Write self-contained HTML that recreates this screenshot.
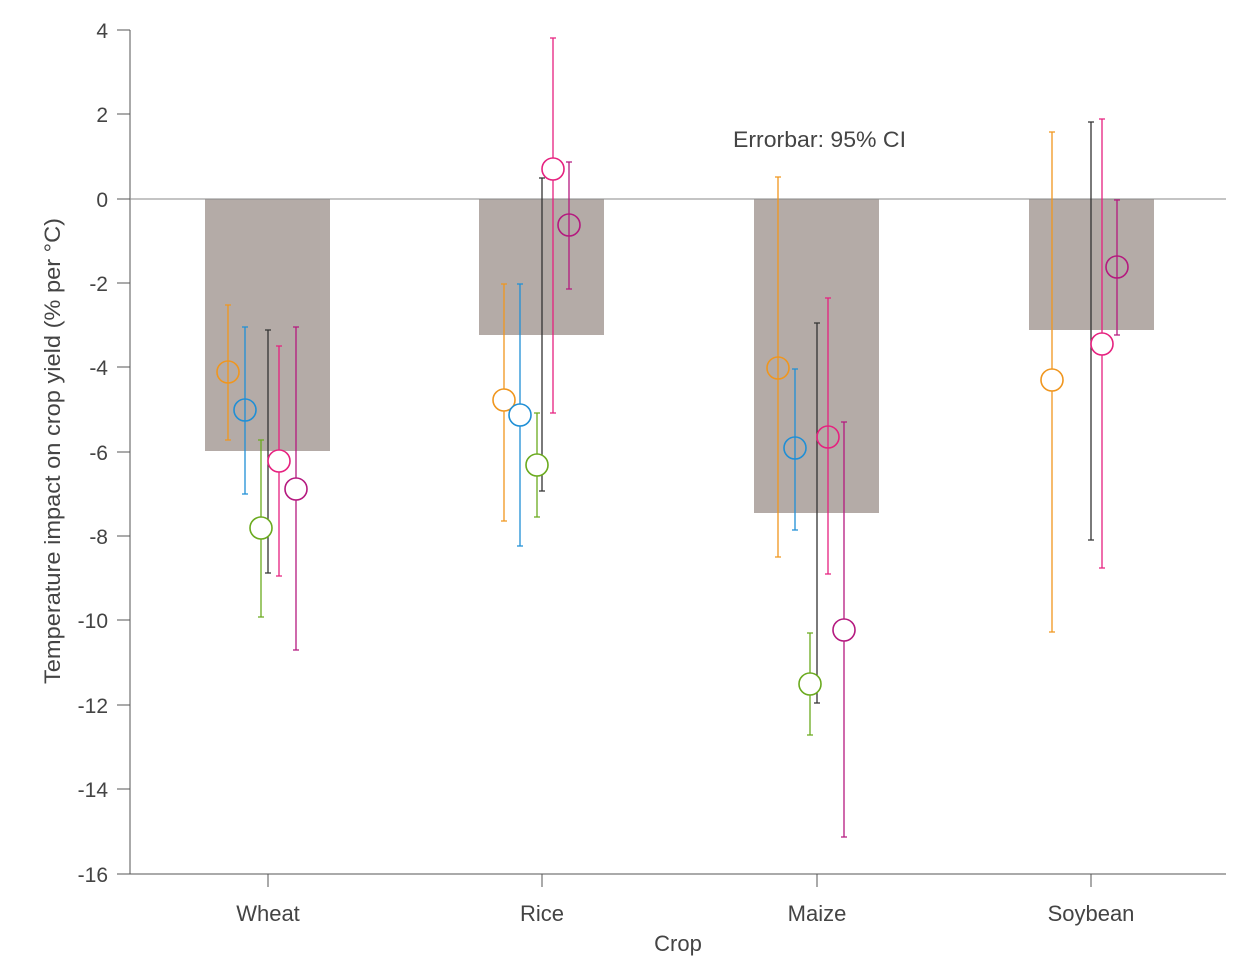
<!DOCTYPE html>
<html><head><meta charset="utf-8"><style>
html,body{margin:0;padding:0;background:#fff;}
svg{display:block;font-family:"Liberation Sans",sans-serif;}
</style></head><body>
<svg width="1250" height="969" viewBox="0 0 1250 969" xmlns="http://www.w3.org/2000/svg">
<g fill="#b4aba7">
<rect x="205" y="199" width="125" height="252"/>
<rect x="479" y="199" width="125" height="136"/>
<rect x="754" y="199" width="125" height="314"/>
<rect x="1029" y="199" width="125" height="131"/>
</g>
<g stroke="#555" stroke-width="1" fill="none">
<line x1="130" y1="30" x2="130" y2="874"/>
<line x1="130" y1="874" x2="1226" y2="874"/>
<line x1="130" y1="199" x2="1226" y2="199" stroke="#888"/>
<line x1="117" y1="30" x2="130" y2="30"/><line x1="117" y1="114" x2="130" y2="114"/>
<line x1="117" y1="199" x2="130" y2="199"/><line x1="117" y1="283" x2="130" y2="283"/>
<line x1="117" y1="367" x2="130" y2="367"/><line x1="117" y1="452" x2="130" y2="452"/>
<line x1="117" y1="536" x2="130" y2="536"/><line x1="117" y1="620" x2="130" y2="620"/>
<line x1="117" y1="705" x2="130" y2="705"/><line x1="117" y1="789" x2="130" y2="789"/>
<line x1="117" y1="874" x2="130" y2="874"/>
<line x1="268" y1="874" x2="268" y2="887"/><line x1="542" y1="874" x2="542" y2="887"/>
<line x1="817" y1="874" x2="817" y2="887"/><line x1="1091" y1="874" x2="1091" y2="887"/>
</g>
<g font-size="21" fill="#444" text-anchor="end">
<text x="108" y="38">4</text><text x="108" y="122">2</text><text x="108" y="207">0</text>
<text x="108" y="291">-2</text><text x="108" y="375">-4</text><text x="108" y="460">-6</text>
<text x="108" y="544">-8</text><text x="108" y="628">-10</text><text x="108" y="713">-12</text>
<text x="108" y="797">-14</text><text x="108" y="882">-16</text>
</g>
<g font-size="22" fill="#444" text-anchor="middle">
<text x="268" y="921">Wheat</text><text x="542" y="921">Rice</text>
<text x="817" y="921">Maize</text><text x="1091" y="921">Soybean</text>
<text x="678" y="951">Crop</text>
<text transform="translate(60,451) rotate(-90)" textLength="466" lengthAdjust="spacingAndGlyphs">Temperature impact on crop yield (% per °C)</text>
</g>
<text x="733" y="147" font-size="22" fill="#444" textLength="173" lengthAdjust="spacingAndGlyphs">Errorbar: 95% CI</text>
<g stroke-width="1.3" fill="none">
<g stroke="#f0961e">
<path d="M228 305V440M225 305H231M225 440H231"/>
<path d="M504 284V521M501 284H507M501 521H507"/>
<path d="M778 177V557M775 177H781M775 557H781"/>
<path d="M1052 132V632M1049 132H1055M1049 632H1055"/>
</g>
<g stroke="#1f8fd6">
<path d="M245 327V494M242 327H248M242 494H248"/>
<path d="M520 284V546M517 284H523M517 546H523"/>
<path d="M795 369V530M792 369H798M792 530H798"/>
</g>
<g stroke="#6aaa1e">
<path d="M261 440V617M258 440H264M258 617H264"/>
<path d="M537 413V517M534 413H540M534 517H540"/>
<path d="M810 633V735M807 633H813M807 735H813"/>
</g>
<g stroke="#333">
<path d="M268 330V573M265 330H271M265 573H271"/>
<path d="M542 178V491M539 178H545M539 491H545"/>
<path d="M817 323V703M814 323H820M814 703H820"/>
<path d="M1091 122V540M1088 122H1094M1088 540H1094"/>
</g>
<g stroke="#e6217f">
<path d="M279 346V576M276 346H282M276 576H282"/>
<path d="M553 38V413M550 38H556M550 413H556"/>
<path d="M828 298V574M825 298H831M825 574H831"/>
<path d="M1102 119V568M1099 119H1105M1099 568H1105"/>
</g>
<g stroke="#b5197f">
<path d="M296 327V650M293 327H299M293 650H299"/>
<path d="M569 162V289M566 162H572M566 289H572"/>
<path d="M844 422V837M841 422H847M841 837H847"/>
<path d="M1117 200V335M1114 200H1120M1114 335H1120"/>
</g>
</g>
<g stroke-width="1.6">
<circle cx="228" cy="372" r="11" stroke="#f0961e" fill="none"/>
<circle cx="245" cy="410" r="11" stroke="#1f8fd6" fill="none"/>
<circle cx="261" cy="528" r="11" stroke="#6aaa1e" fill="#fff"/>
<circle cx="279" cy="461" r="11" stroke="#e6217f" fill="#fff"/>
<circle cx="296" cy="489" r="11" stroke="#b5197f" fill="#fff"/>
<circle cx="504" cy="400" r="11" stroke="#f0961e" fill="#fff"/>
<circle cx="520" cy="415" r="11" stroke="#1f8fd6" fill="#fff"/>
<circle cx="537" cy="465" r="11" stroke="#6aaa1e" fill="#fff"/>
<circle cx="553" cy="169" r="11" stroke="#e6217f" fill="#fff"/>
<circle cx="569" cy="225" r="11" stroke="#b5197f" fill="none"/>
<circle cx="778" cy="368" r="11" stroke="#f0961e" fill="none"/>
<circle cx="795" cy="448" r="11" stroke="#1f8fd6" fill="none"/>
<circle cx="810" cy="684" r="11" stroke="#6aaa1e" fill="#fff"/>
<circle cx="828" cy="437" r="11" stroke="#e6217f" fill="none"/>
<circle cx="844" cy="630" r="11" stroke="#b5197f" fill="#fff"/>
<circle cx="1052" cy="380" r="11" stroke="#f0961e" fill="#fff"/>
<circle cx="1102" cy="344" r="11" stroke="#e6217f" fill="#fff"/>
<circle cx="1117" cy="267" r="11" stroke="#b5197f" fill="none"/>
</g>
</svg>
</body></html>
